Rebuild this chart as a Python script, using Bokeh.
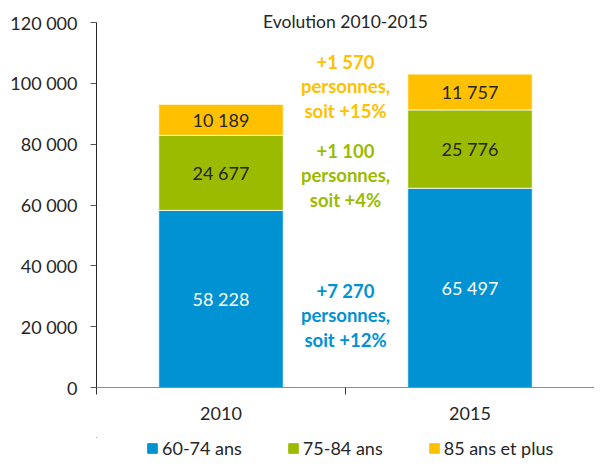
from bokeh.plotting import figure
from bokeh.layouts import column
from bokeh.models import (ColumnDataSource, Range1d, FixedTicker, Legend, LegendItem)
from bokeh.core.properties import value
from bokeh.embed import file_html
from bokeh.resources import INLINE

# ---- data ----
years = ["2010", "2015"]
age_groups = ["60-74 ans", "75-84 ans", "85 ans et plus"]
v_60_74 = [58228, 65497]
v_75_84 = [24677, 25776]
v_85_plus = [10189, 11757]
series_colors = ["#0092D2", "#9BBB00", "#FFC000"]
value_label_colors = ["white", "#262626", "#262626"]
evolution_texts = ["+7 270\npersonnes,\nsoit +12%",
                   "+1 100\npersonnes,\nsoit +4%",
                   "+1 570\npersonnes,\nsoit +15%"]
evolution_y = [23670, 69770, 98960]
y_ticks = [0, 20000, 40000, 60000, 80000, 100000, 120000]
y_tick_labels = ["0", "20 000", "40 000", "60 000", "80 000", "100 000", "120 000"]
title_text = "Evolution 2010-2015"
title_y = 120330

FONT = "Lato"
TXT = "#262626"

def fmt(v):
    return f"{v:,}".replace(",", " ")

x_centers = [i + 0.5 for i in range(len(years))]
x_bounds = [i for i in range(len(years) + 1)]
keys = ["a", "b", "c"]
src = ColumnDataSource(dict(x=x_centers, a=v_60_74, b=v_75_84, c=v_85_plus))

p = figure(width=594, height=437, output_backend="svg", toolbar_location=None,
           x_range=Range1d(0, 2), y_range=Range1d(0, 127233),
           min_border_left=96, min_border_right=0, min_border_top=0, min_border_bottom=50)
p.outline_line_color = None
p.xgrid.visible = False
p.ygrid.visible = False

rs = p.vbar_stack(keys, x="x", width=0.5, source=src, color=series_colors,
                  line_color="white", line_width=1, line_alpha=0.8)

# value labels
lx, ly, lt, lc = [], [], [], []
for i in range(len(years)):
    base = 0
    for k, vals in enumerate([v_60_74, v_75_84, v_85_plus]):
        v = vals[i]
        lx.append(x_centers[i]); ly.append(base + v / 2); lt.append(fmt(v)); lc.append(value_label_colors[k])
        base += v
p.text(x=lx, y=ly, text=lt, text_color=lc, text_font=value(FONT), text_font_size="18px",
       text_align="center", text_baseline="middle")

# evolution annotations
p.text(x=[1] * 3, y=evolution_y, text=evolution_texts, text_color=series_colors,
       text_font=value(FONT), text_font_style="bold", text_font_size="18.5px",
       text_align="center", text_baseline="middle", text_line_height=1.12)

# chart title (inside the frame)
p.text(x=[1], y=[title_y], text=[title_text], text_color=TXT, text_font=value(FONT),
       text_font_size="17.5px", text_align="center", text_baseline="middle")

# axes
xa = p.xaxis[0]
xa.ticker = FixedTicker(ticks=x_centers, minor_ticks=x_bounds)
xa.major_label_overrides = {x: y for x, y in zip(x_centers, years)}
xa.major_tick_out = 0
xa.major_tick_in = 0
xa.minor_tick_out = 7
xa.minor_tick_in = 0
xa.minor_tick_line_color = "#333333"
xa.axis_line_color = "#8C8C8C"
xa.major_label_standoff = 12
xa.major_label_text_font = FONT
xa.major_label_text_font_size = "18px"
xa.major_label_text_color = TXT

ya = p.yaxis[0]
ya.ticker = FixedTicker(ticks=y_ticks)
ya.bounds = (0, 120000)
ya.major_label_overrides = {t: l for t, l in zip(y_ticks, y_tick_labels)}
ya.major_tick_out = 6
ya.major_tick_in = 0
ya.minor_tick_out = 0
ya.minor_tick_in = 0
ya.axis_line_color = "#262626"
ya.major_tick_line_color = "#555555"
ya.major_label_standoff = 13
ya.major_label_text_font = FONT
ya.major_label_text_font_size = "18px"
ya.major_label_text_color = TXT

# legend strip below the chart (its own bars lie outside its visible range)
pl = figure(width=594, height=22, output_backend="svg", toolbar_location=None,
            x_range=Range1d(10, 11), y_range=Range1d(-2, -1), x_axis_type=None, y_axis_type=None,
            min_border=0, min_border_left=0, min_border_right=0, min_border_top=0, min_border_bottom=0)
pl.outline_line_color = None
pl.xgrid.visible = False
pl.ygrid.visible = False
swatches = pl.vbar_stack(keys, x="x", width=0.5, source=src, color=series_colors)
legend = Legend(items=[LegendItem(label=g, renderers=[r]) for g, r in zip(age_groups, swatches)],
                orientation="horizontal", location=(50, 0), glyph_width=12, glyph_height=12,
                label_standoff=4, spacing=45, padding=0, margin=0, label_height=20,
                border_line_color=None, background_fill_alpha=0,
                label_text_font=FONT, label_text_font_size="18px", label_text_color=TXT)
pl.add_layout(legend)

layout = column(p, pl, spacing=0)
open("out.html", "w").write(file_html(layout, INLINE))
